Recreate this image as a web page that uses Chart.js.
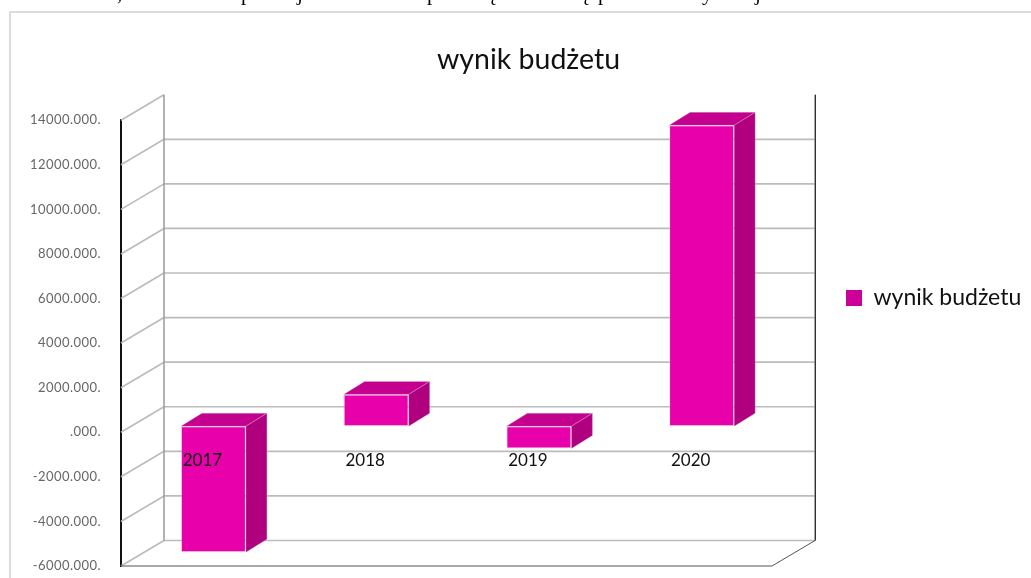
<!DOCTYPE html>
<html>
<head>
<meta charset="utf-8">
<title>wynik budżetu</title>
<script src="https://cdn.jsdelivr.net/npm/chart.js@4"></script>
<style>
  html, body { margin: 0; padding: 0; background: #fff; overflow: hidden; width: 1031px; height: 578px; }
  #frame { position: absolute; left: 9px; top: 11px; width: 1100px; height: 700px; border: 2px solid #dcdcdc; }
  #chartBox { position: absolute; left: 0; top: 0; width: 1031px; height: 578px; }
  .cut { position: absolute; top: -19px; font: 21px "Liberation Serif", serif; color: #000; line-height: 24px; }
</style>
</head>
<body>
<div id="frame"></div>
<div id="chartBox"><canvas id="budgetChart" width="1031" height="578"></canvas></div>
<script>
const categories = ['2017', '2018', '2019', '2020'];
const seriesName = 'wynik budżetu';
const budgetResult = [-5650000, 1430000, -1000000, 13500000];
const axisMin = -6000000;
const axisMax = 14000000;
const axisStep = 2000000;

// Descender tails of the line of text cut off above the chart
const cutGlyphs = [',', 'p', 'j', 'p', 'ą', 'ą', 'p', 'y', 'j'];
const cutGlyphX = [117, 241, 297, 427, 486, 579, 598, 702, 755];

// Look of the 3D box
const frontColor = '#e800aa';
const topColor = '#c4008e';
const sideColor = '#b00080';
const legendColor = '#cc0099';
const gridColor = '#bcbcbc';
const wallDepth = { x: 43, y: -25.5 };
const barShift = { x: 11, y: -6 };
const barDepth = { x: 21, y: -13 };

cutGlyphs.forEach(function (glyph, i) {
  const span = document.createElement('span');
  span.className = 'cut';
  span.style.left = cutGlyphX[i] + 'px';
  span.textContent = glyph;
  document.body.appendChild(span);
});

function line(ctx, x1, y1, x2, y2, color, width) {
  ctx.beginPath();
  ctx.moveTo(x1, y1);
  ctx.lineTo(x2, y2);
  ctx.strokeStyle = color;
  ctx.lineWidth = width;
  ctx.stroke();
}

function face(ctx, points, color) {
  ctx.beginPath();
  points.forEach(function (p, i) {
    if (i === 0) ctx.moveTo(p[0], p[1]);
    else ctx.lineTo(p[0], p[1]);
  });
  ctx.closePath();
  ctx.fillStyle = color;
  ctx.fill();
  ctx.strokeStyle = 'rgba(205,205,205,0.5)';
  ctx.lineWidth = 0.6;
  ctx.stroke();
}

// Walls, floor, legend and title placement for the fake 3D look
const box3d = {
  id: 'box3d',
  beforeLayout(chart) {
    const legend = chart.legend;
    if (!legend.fixedWidth) {
      const fit = legend.fit;
      legend.fit = function () {
        fit.call(this);
        this.width = 259;
      };
      legend.fixedWidth = true;
    }
    const y = chart.scales.y;
    if (y && !y.spacedLabels) {
      const drawLabels = y.drawLabels;
      y.drawLabels = function (area) {
        chart.ctx.letterSpacing = '0.45px';
        drawLabels.call(this, area);
        chart.ctx.letterSpacing = '0px';
      };
      y.spacedLabels = true;
    }
  },
  afterLayout(chart) {
    chart.legend.left = 836;
    chart.legend.top = 276.5;
    chart.titleBlock.left += 26;
  },
  beforeDatasetsDraw(chart) {
    const ctx = chart.ctx;
    const area = chart.chartArea;
    const y = chart.scales.y;
    const backLeft = area.left + wallDepth.x;
    const backRight = area.right + wallDepth.x;
    ctx.save();
    y.ticks.forEach(function (tick) {
      const py = y.getPixelForValue(tick.value);
      line(ctx, area.left, py, backLeft, py + wallDepth.y, gridColor, 1.7);
      if (tick.value !== axisMax) {
        line(ctx, backLeft, py + wallDepth.y, backRight, py + wallDepth.y, gridColor, 1.7);
      }
    });
    const backTop = area.top + wallDepth.y;
    const backBottom = area.bottom + wallDepth.y;
    line(ctx, backLeft, backTop, backLeft, backBottom, '#9a9a9a', 1.5);
    line(ctx, backRight, backTop, backRight, backBottom, '#8a8a8a', 1.5);
    line(ctx, backRight + 0.5, backTop, backRight + 0.5, backBottom, '#111', 0.8);
    line(ctx, area.left, area.bottom, area.right, area.bottom, '#555', 1.2);
    line(ctx, area.right, area.bottom, backRight, backBottom, '#555', 1);
    ctx.restore();
  },
  beforeDatasetDraw(chart, args) {
    const ctx = chart.ctx;
    ctx.save();
    ctx.translate(barShift.x, barShift.y);
    args.meta.data.forEach(function (bar) {
      const left = bar.x - bar.width / 2;
      const right = bar.x + bar.width / 2;
      const top = Math.min(bar.y, bar.base);
      const bottom = Math.max(bar.y, bar.base);
      face(ctx, [[left, top], [left + barDepth.x, top + barDepth.y], [right + barDepth.x, top + barDepth.y], [right, top]], topColor);
      face(ctx, [[right, top], [right + barDepth.x, top + barDepth.y], [right + barDepth.x, bottom + barDepth.y], [right, bottom]], sideColor);
    });
  },
  afterDatasetDraw(chart) {
    chart.ctx.restore();
  }
};

function formatTick(value) {
  if (value === 0) return '.000.';
  return (value / 1000) + '.000.';
}

new Chart(document.getElementById('budgetChart').getContext('2d'), {
  type: 'bar',
  data: {
    labels: categories,
    datasets: [{
      label: seriesName,
      data: budgetResult,
      backgroundColor: frontColor,
      borderColor: 'rgba(205,205,205,0.5)',
      borderWidth: 1,
      borderSkipped: false,
      barPercentage: 0.4,
      categoryPercentage: 1,
      clip: false
    }]
  },
  options: {
    responsive: false,
    animation: false,
    layout: { padding: { left: 0, top: 0, right: 0, bottom: 12 } },
    plugins: {
      title: {
        display: true,
        text: seriesName,
        color: '#111',
        font: { family: 'Lato', size: 28.5, weight: 'normal' },
        padding: { top: 43, bottom: 43 }
      },
      legend: {
        position: 'right',
        align: 'start',
        labels: {
          boxWidth: 16,
          boxHeight: 16,
          padding: 10,
          color: '#111',
          font: { family: 'Lato', size: 23 },
          generateLabels(chart) {
            const items = Chart.defaults.plugins.legend.labels.generateLabels(chart);
            items[0].fillStyle = legendColor;
            items[0].strokeStyle = legendColor;
            items[0].lineWidth = 0;
            return items;
          }
        }
      },
      tooltip: { enabled: false }
    },
    scales: {
      x: {
        position: { y: 0 },
        afterFit(scale) { scale.height = 0; },
        grid: { display: false, drawTicks: false },
        border: { display: false },
        ticks: {
          z: 1,
          color: '#111',
          padding: 18,
          font: { family: 'Lato', size: 17 },
          maxRotation: 0
        }
      },
      y: {
        min: axisMin,
        max: axisMax,
        afterFit(scale) {
          scale.width = 121;
          scale.paddingTop = 0;
          scale.paddingBottom = 0;
        },
        grid: { display: false, drawTicks: false },
        border: { display: true, color: '#111', width: 2 },
        ticks: {
          stepSize: axisStep,
          padding: 20,
          color: '#666',
          font: { family: 'Lato', size: 13 },
          callback: formatTick
        }
      }
    }
  },
  plugins: [box3d]
});
</script>
</body>
</html>
